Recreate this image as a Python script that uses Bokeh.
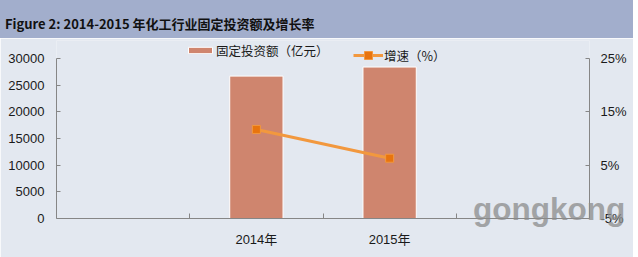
import numpy as np
from bokeh.plotting import figure
from bokeh.models import (Range1d, LinearAxis, FixedTicker, Legend, LegendItem,
                          Div, CustomJSTickFormatter)
from bokeh.layouts import column
from bokeh.embed import file_html
from bokeh.resources import INLINE

# ---------------- data ----------------
title_text = "Figure 2: 2014-2015 年化工行业固定投资额及增长率"
years = ["2014年", "2015年"]
investment = [26700, 28400]          # 固定投资额（亿元）
growth = [11.7, 6.3]                 # 增速（%）
left_ticks = [0, 5000, 10000, 15000, 20000, 25000, 30000]
right_ticks = [-5, 5, 15, 25]
bar_label = "固定投资额（亿元）"
line_label = "增速（%）"
watermark = "gongkong"

# ---------------- layout constants ----------------
N_SLOTS = 4          # category slots on the x axis (first and last are empty)
FIRST_SLOT = 1
FRAME_H = 178        # frame height in px
AXIS_H = 160         # px used by the axes span
LEFT_MAX = 30000
PCT_MIN, PCT_MAX = -5, 25
LEG_H = 20

BG = "#E3E8F0"
BAND = "#A2AECC"
BAR_C = "#CF856E"
LINE_C = "#F2983E"
MARK_C = "#E8740E"
AXIS_C = "#868686"
TXT_C = "#1A1A1A"
LAT = "Liberation Sans, Noto Sans CJK SC"
CJK = "Noto Sans CJK SC"

xs = [FIRST_SLOT + i + 0.5 for i in range(len(years))]

left_end = LEFT_MAX * FRAME_H / AXIS_H
pct_end = PCT_MIN + (PCT_MAX - PCT_MIN) * FRAME_H / AXIS_H

p = figure(width=633, height=219, output_backend="svg", toolbar_location=None,
           x_range=Range1d(0, N_SLOTS), y_range=Range1d(0, left_end),
           min_border_left=56, min_border_right=44, min_border_top=2,
           min_border_bottom=39, background_fill_color=BG, border_fill_color=BG,
           outline_line_color=None, margin=0)
p.extra_y_ranges = {"pct": Range1d(PCT_MIN, pct_end)}
p.xgrid.visible = False
p.ygrid.visible = False

bars = p.vbar(x=xs, top=investment, width=0.4, fill_color=BAR_C,
              line_color="white", line_width=1)
ln = p.line(xs, growth, y_range_name="pct", line_color=LINE_C, line_width=3)
mk = p.scatter(xs, growth, y_range_name="pct", marker="square", size=8,
               fill_color=MARK_C, line_color=LINE_C, line_width=1)

def style_axis(ax):
    ax.axis_line_color = AXIS_C
    ax.major_tick_line_color = AXIS_C
    ax.minor_tick_line_color = AXIS_C
    ax.major_label_text_font = LAT
    ax.major_label_text_font_size = "13px"
    ax.major_label_text_color = TXT_C

# left axis
ya = p.yaxis[0]
style_axis(ya)
ya.ticker = FixedTicker(ticks=left_ticks, minor_ticks=[])
ya.bounds = (0, LEFT_MAX)
ya.major_tick_in = 4
ya.major_tick_out = 0
ya.major_label_standoff = 12

# right axis
ra = LinearAxis(y_range_name="pct")
style_axis(ra)
ra.ticker = FixedTicker(ticks=right_ticks, minor_ticks=[])
ra.bounds = (PCT_MIN, PCT_MAX)
ra.formatter = CustomJSTickFormatter(code="return tick + '%';")
ra.major_tick_in = 4
ra.major_tick_out = 0
ra.major_label_standoff = 11
p.add_layout(ra, "right")

# x axis
xa = p.xaxis[0]
style_axis(xa)
xa.ticker = FixedTicker(ticks=xs, minor_ticks=list(range(1, N_SLOTS)))
xa.formatter = CustomJSTickFormatter(args=dict(xs=xs, labels=years), code="""
    for (let i = 0; i < xs.length; i++) { if (Math.abs(xs[i] - tick) < 1e-6) return labels[i]; }
    return '';
""")
xa.major_tick_in = 0
xa.major_tick_out = 0
xa.minor_tick_in = 5
xa.minor_tick_out = 0
xa.major_label_standoff = 13

# legends (location = bottom-left corner, in px from the frame's bottom-left)
common = dict(orientation="horizontal", padding=0, margin=0, spacing=0,
              label_standoff=1, background_fill_alpha=0, border_line_alpha=0,
              label_text_font=CJK, label_text_font_size="12.5px",
              label_text_color=TXT_C, glyph_width=30, label_height=LEG_H)
leg1 = Legend(items=[LegendItem(label=bar_label, renderers=[bars])],
              location=(129, FRAME_H - LEG_H), glyph_height=8,
              label_text_baseline="top", **common)
leg2 = Legend(items=[LegendItem(label=line_label, renderers=[ln, mk])],
              location=(297, FRAME_H - 5 - LEG_H), glyph_height=20, **common)
p.add_layout(leg1)
p.add_layout(leg2)

title = Div(text=(
    f'<div style="box-sizing:border-box;width:633px;height:38px;padding:10px 0 0 5px;'
    f'line-height:28px;background:{BAND};'
    f'font-family:\'Liberation Sans Narrow\',\'Noto Sans CJK SC\';'
    f'font-weight:bold;font-size:13px;color:#111;white-space:nowrap;">{title_text}</div>'),
    width=633, height=38, margin=0)

# watermark overlaid on the lower right of the chart
wm = Div(text=(
    '<div style="font-family:\'Liberation Sans\';font-weight:bold;font-size:31.5px;'
    f'line-height:31.5px;color:#8C8C8C;opacity:0.75;white-space:nowrap;">{watermark}</div>'),
    width=158, height=40, margin=(-63, 0, 0, 473), styles={"z-index": "10"})

layout = column(title, p, wm, spacing=0)
open("out.html", "w").write(file_html(layout, INLINE))
